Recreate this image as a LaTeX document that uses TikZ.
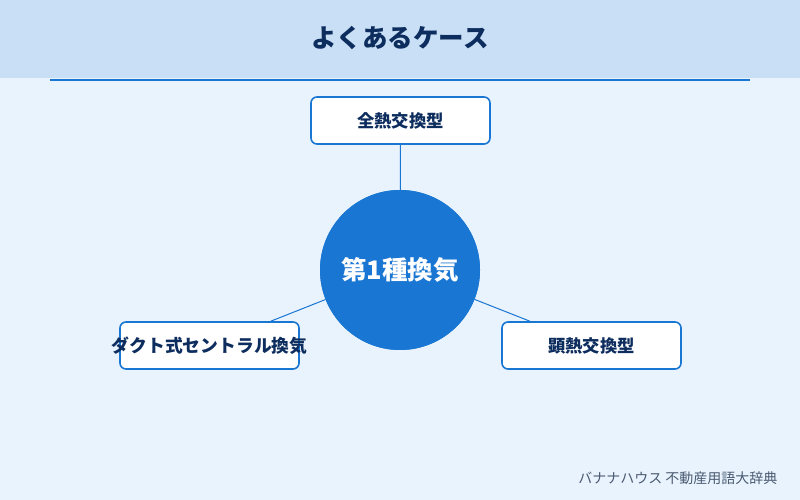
\documentclass[tikz,border=0pt]{standalone}
\usepackage{fontspec}
\newfontfamily\cjk{Noto Sans CJK JP}
\definecolor{bgc}{HTML}{E8F3FE}
\definecolor{hdr}{HTML}{C8DFF5}
\definecolor{mainblue}{HTML}{1976D2}
\definecolor{dark}{HTML}{0D2D5E}
\definecolor{foot}{HTML}{4A5A70}
\begin{document}
\begin{tikzpicture}[x=1pt,y=1pt,
  box/.style={draw=mainblue,line width=1.6pt,fill=white,rounded corners=6pt,minimum width=179pt,minimum height=47pt,inner sep=0pt,font=\cjk\bfseries\fontsize{17.3}{19}\selectfont,text=dark},
  hub/.style={circle,fill=mainblue,minimum size=160pt,inner sep=0pt,font=\cjk\bfseries\fontsize{25.5}{28}\selectfont,text=white},
  link/.style={draw=mainblue,line width=1pt}]
\useasboundingbox (0,0) rectangle (800,500);
\fill[bgc] (0,0) rectangle (800,500);
\fill[hdr] (0,422) rectangle (800,500);
\node[font=\cjk\bfseries\fontsize{25.5}{28}\selectfont,text=dark] (title) at (400,462) {よくあるケース};
\coordinate (la) at (50,420);
\coordinate (lb) at (750,420);
\draw[mainblue,line width=2pt] (la) -- (lb);
\node[box] (top) at (400.5,379.5) {全熱交換型};
\node[box] (left) at (209.5,154.5) {};
\node[box] (right) at (591.5,154.5) {顕熱交換型};
\node[hub] (hub) at (400,230) {};
\draw[link] (top) -- (hub);
\draw[link] (hub) -- (left);
\draw[link] (hub) -- (right);
\node[hub] at (hub) {第1種換気};
\node[box,draw=none,fill=none,font=\cjk\bfseries\fontsize{17.8}{19}\selectfont] (lefttext) at (left) {ダクト式セントラル換気};
\node[anchor=east,font=\cjk\fontsize{14}{16}\selectfont,text=foot] (footer) at (781,22) {バナナハウス 不動産用語大辞典};
\end{tikzpicture}
\end{document}
